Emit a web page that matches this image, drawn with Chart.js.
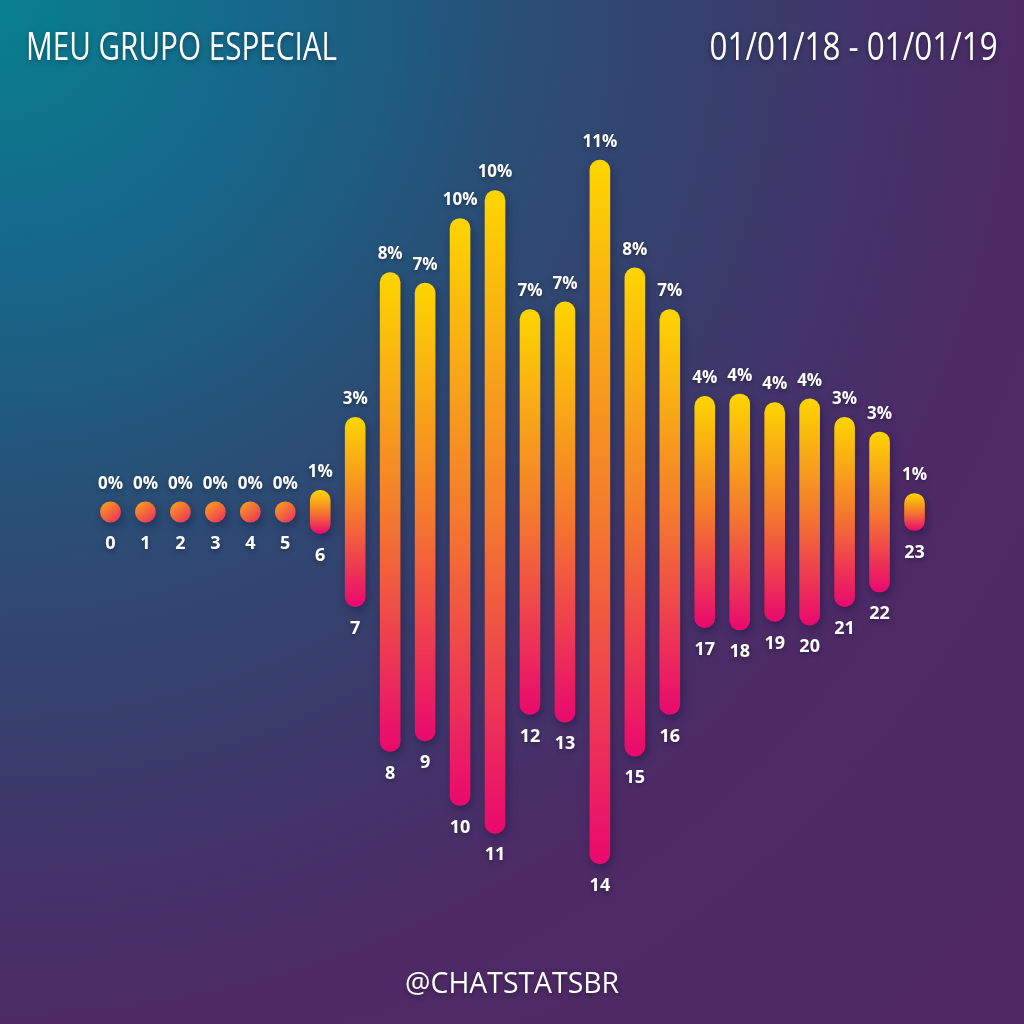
<!DOCTYPE html>
<html>
<head>
<meta charset="utf-8">
<script src="https://cdn.jsdelivr.net/npm/chart.js@4/dist/chart.umd.min.js"></script>
<style>
  html, body { margin: 0; padding: 0; }
  #wrap {
    position: relative; width: 1024px; height: 1024px; overflow: hidden;
    background: radial-gradient(circle at 0 0, #08808f 0px, #15688a 250px, #1f5b80 400px, #2a4e75 520px, #373f6d 720px, #44336a 880px, #4d2a66 1020px, #502865 1450px);
  }
  canvas { position: absolute; left: 0; top: 0; }
  .txt {
    position: absolute; color: #fff; font-family: "Open Sans", sans-serif; font-weight: 400;
    line-height: 1; white-space: nowrap; text-shadow: 0 2px 6px rgba(0,0,0,0.35);
  }
  #title { left: 26px; top: 25px; font-size: 39px; transform-origin: left top; }
  #date { right: 26px; top: 25px; font-size: 39px; transform-origin: right top; }
  #footer { left: 0; width: 1024px; text-align: center; top: 967px; font-size: 30px; }
  #footer span { display: inline-block; transform-origin: center top; }
</style>
</head>
<body>
<div id="wrap">
  <canvas id="c" width="1024" height="1024"></canvas>
  <div class="txt" id="title">MEU GRUPO ESPECIAL</div>
  <div class="txt" id="date">01/01/18 - 01/01/19</div>
  <div class="txt" id="footer"><span id="foot">@CHATSTATSBR</span></div>
</div>
<script>
// ---- data ----
const hours = ['0','1','2','3','4','5','6','7','8','9','10','11','12','13','14','15','16','17','18','19','20','21','22','23'];
const shares = [0, 0, 0, 0, 0, 0, 0.70, 3.06, 7.75, 7.41, 9.50, 10.40, 6.55, 6.80, 11.39, 7.90, 6.55, 3.74, 3.82, 3.54, 3.66, 3.06, 2.59, 0.60];
const pctLabels = shares.map(v => Math.round(v) + '%');

const MIN_HALF = 0.33; // minimum half-extent so zero values show as dots
const YMAX = 16.57;

const barData = shares.map(v => { const h = Math.max(v, MIN_HALF); return [-h, h]; });

function barFill(c) {
  const chart = c.chart;
  const { ctx, chartArea } = chart;
  if (!chartArea) return '#f5a623';
  const i = c.dataIndex;
  const h = Math.max(shares[i], MIN_HALF);
  const ys = chart.scales.y, xs = chart.scales.x;
  const top = ys.getPixelForValue(h), bot = ys.getPixelForValue(-h);
  const x = xs.getPixelForValue(i);
  let g;
  if (shares[i] === 0) {
    g = ctx.createLinearGradient(x - 8, top, x + 8, bot);
    g.addColorStop(0, '#f9a01c');
    g.addColorStop(1, '#ec2f5c');
  } else {
    g = ctx.createLinearGradient(0, top, 0, bot);
    g.addColorStop(0, '#fdd500');
    g.addColorStop(0.5, '#f47b2c');
    g.addColorStop(1, '#e9096e');
  }
  return g;
}

const shadowPlugin = {
  id: 'barShadow',
  beforeDatasetsDraw(chart) {
    const ctx = chart.ctx;
    ctx.save();
    ctx.shadowColor = 'rgba(10,5,40,0.35)';
    ctx.shadowBlur = 10;
    ctx.shadowOffsetX = 2;
    ctx.shadowOffsetY = 4;
  },
  afterDatasetsDraw(chart) {
    chart.ctx.restore();
  }
};

const labelPlugin = {
  id: 'barLabels',
  afterDraw(chart) {
    const ctx = chart.ctx;
    const meta = chart.getDatasetMeta(0);
    ctx.save();
    ctx.fillStyle = '#ffffff';
    ctx.textAlign = 'center';
    ctx.textBaseline = 'middle';
    ctx.shadowColor = 'rgba(0,0,0,0.35)';
    ctx.shadowBlur = 5;
    ctx.shadowOffsetY = 2;
    meta.data.forEach((el, i) => {
      const top = Math.min(el.y, el.base), bot = Math.max(el.y, el.base);
      ctx.font = 'bold 17px "Open Sans", sans-serif';
      ctx.fillText(pctLabels[i], el.x, top - 18);
      ctx.font = 'bold 18px "Open Sans", sans-serif';
      ctx.fillText(hours[i], el.x, bot + 22);
    });
    ctx.restore();
  }
};

new Chart(document.getElementById('c'), {
  type: 'bar',
  data: {
    labels: hours,
    datasets: [{
      data: barData,
      backgroundColor: barFill,
      borderRadius: 10,
      borderSkipped: false,
      barThickness: 20
    }]
  },
  options: {
    responsive: false,
    animation: false,
    devicePixelRatio: 1,
    layout: { padding: { left: 93, right: 92, top: 0, bottom: 0 } },
    plugins: { legend: { display: false }, tooltip: { enabled: false }, title: { display: false } },
    scales: {
      x: { display: false, offset: true, grid: { display: false } },
      y: { display: false, min: -YMAX, max: YMAX, grid: { display: false } }
    }
  },
  plugins: [shadowPlugin, labelPlugin]
});

// fit header/footer text widths (condensed look)
function fitWidth(el, target) {
  const w = el.getBoundingClientRect().width;
  if (w > 0) el.style.transform = 'scaleX(' + (target / w) + ')';
}
fitWidth(document.getElementById('title'), 311);
fitWidth(document.getElementById('date'), 288);
fitWidth(document.getElementById('foot'), 214);
</script>
</body>
</html>
